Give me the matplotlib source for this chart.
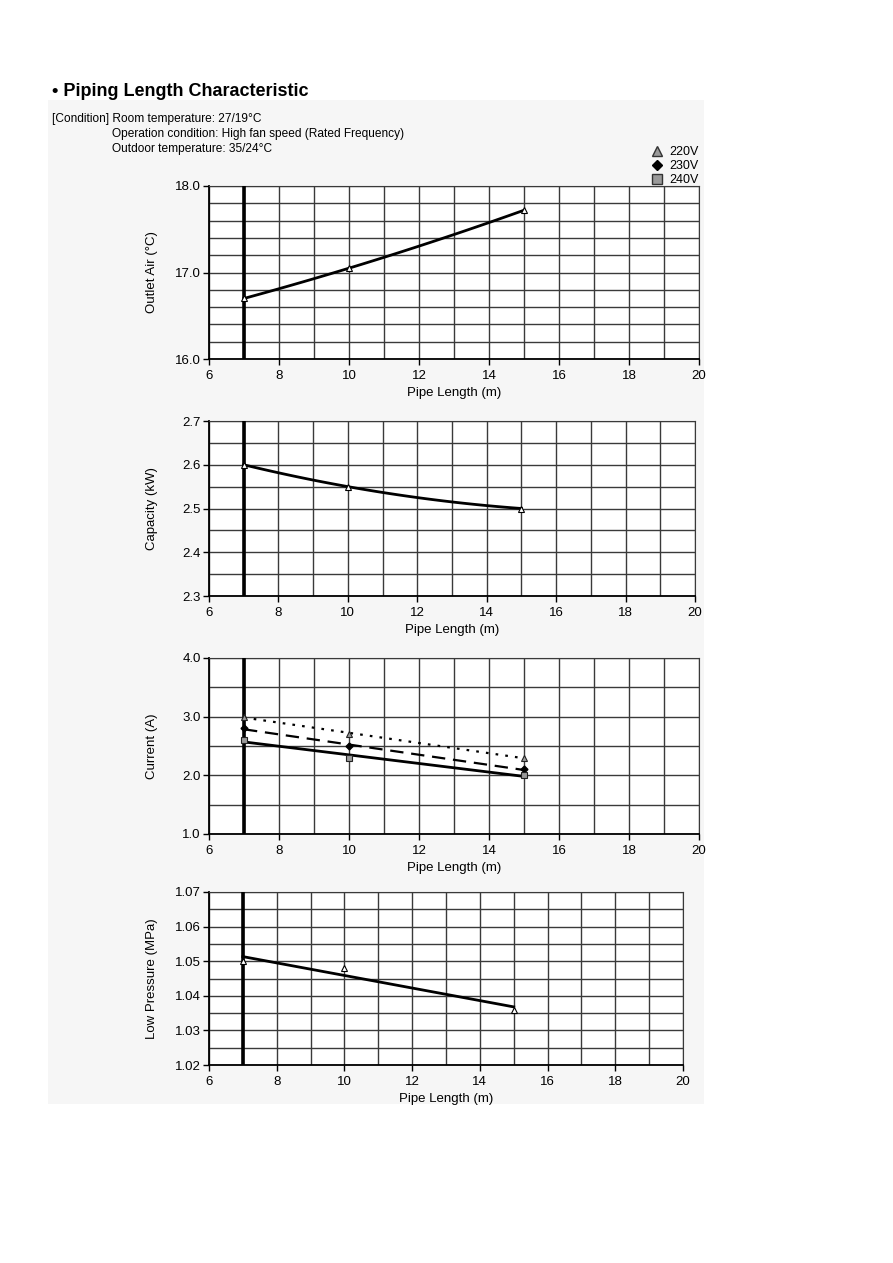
import numpy as np
import matplotlib
matplotlib.use('Agg')
import matplotlib.pyplot as plt
from matplotlib.patches import Rectangle
from matplotlib.lines import Line2D

plt.rcParams['font.family'] = ['Liberation Sans', 'DejaVu Sans']
plt.rcParams['font.size'] = 9

# data
pipe_length = [7, 10, 15]
outlet_air = [16.70, 17.05, 17.72]
capacity = [2.60, 2.55, 2.50]
current_220 = [3.0, 2.7, 2.3]
current_230 = [2.8, 2.5, 2.1]
current_240 = [2.6, 2.3, 2.0]
low_pressure = [1.050, 1.048, 1.036]
min_length = 7

voltages = ['220V', '230V', '240V']
conditions = ['[Condition] Room temperature: 27/19\u00b0C',
              'Operation condition: High fan speed (Rated Frequency)',
              'Outdoor temperature: 35/24\u00b0C']

W, H = 893, 1263
GRID = '#3a3a3a'


def fig_rect(x0, y0, x1, y1):
    # pixel box -> figure fraction
    return [x0 / W, 1 - y1 / H, (x1 - x0) / W, (y1 - y0) / H]


def fit_line(ax, y, deg, **kw):
    xs = np.linspace(pipe_length[0], pipe_length[-1], 100)
    coef = np.polyfit(pipe_length, y, deg)
    ax.plot(xs, np.polyval(coef, xs), color='black', **kw)


def setup(ax, ylim, ystep, yfmt, ylabel, box):
    x0, y0, x1, y1 = box
    ax.set_xlim(6, 20)
    ax.set_ylim(*ylim)
    ax.set_xticks(range(6, 21, 2))
    ax.set_xticks(range(6, 21), minor=True)
    ax.set_yticks(np.arange(ylim[0], ylim[1] + ystep / 2, ystep), minor=True)
    ax.yaxis.set_major_formatter(matplotlib.ticker.FormatStrFormatter(yfmt))
    ax.grid(which='both', color=GRID, linewidth=1.0)
    ax.tick_params(which='major', direction='out', length=4, width=1,
                   labelsize=9.5, pad=2)
    ax.tick_params(axis='x', which='major', pad=4)
    ax.tick_params(which='minor', length=0)
    for s in ax.spines.values():
        s.set_color(GRID)
    ax.spines['left'].set_color('black')
    ax.spines['bottom'].set_color('black')
    ax.spines['left'].set_linewidth(1.3)
    ax.spines['bottom'].set_linewidth(1.3)
    ax.axvline(min_length, color='black', linewidth=2.6, zorder=3)
    ax.set_xlabel('Pipe Length (m)', fontsize=9.5)
    ax.set_ylabel(ylabel, fontsize=9.5)
    ax.xaxis.set_label_coords(0.5, -28 / (y1 - y0))
    ax.yaxis.set_label_coords(-(x0 - 158) / (x1 - x0), 0.5)
    ax.set_facecolor('white')


fig = plt.figure(figsize=(W / 100, H / 100), dpi=100)
fig.patches.append(Rectangle((48 / W, 1 - 1104 / H), (704 - 48) / W,
                             (1104 - 100) / H, transform=fig.transFigure,
                             facecolor='#f6f6f6', edgecolor='none', zorder=-10))

fig.text(52 / W, 1 - 91 / H, '\u2022 Piping Length Characteristic',
         fontsize=13, fontweight='bold', va='center', ha='left')
fig.text(52 / W, 1 - 119 / H, conditions[0], fontsize=8.6, va='center')
fig.text(112 / W, 1 - 134 / H, conditions[1], fontsize=8.6, va='center')
fig.text(112 / W, 1 - 149 / H, conditions[2], fontsize=8.6, va='center')

# legend
handles = [Line2D([], [], marker='^', color='none', markerfacecolor='#9a9a9a',
                  markeredgecolor='#333333', markersize=7),
           Line2D([], [], marker='D', color='none', markerfacecolor='black',
                  markeredgecolor='black', markersize=5.5),
           Line2D([], [], marker='s', color='none', markerfacecolor='#9a9a9a',
                  markeredgecolor='#333333', markersize=6.5)]
fig.legend(handles, voltages, loc='upper left',
           bbox_to_anchor=(644 / W, 1 - 140 / H), frameon=False,
           fontsize=9, handlelength=1.0, handletextpad=0.5,
           labelspacing=0.15, borderpad=0)

tri = dict(marker='^', linestyle='none', markersize=4.5,
           markerfacecolor='white', markeredgecolor='black',
           markeredgewidth=0.8, zorder=5)

# outlet air
box1 = (209, 186, 699, 359)
ax1 = fig.add_axes(fig_rect(*box1))
setup(ax1, (16.0, 18.0), 0.2, '%.1f', 'Outlet Air (\u00b0C)', box1)
ax1.set_yticks([16.0, 17.0, 18.0])
fit_line(ax1, outlet_air, 2, linewidth=2)
ax1.plot(pipe_length, outlet_air, **tri)

# capacity
box2 = (209, 421, 695, 596)
ax2 = fig.add_axes(fig_rect(*box2))
setup(ax2, (2.3, 2.7), 0.05, '%.1f', 'Capacity (kW)', box2)
ax2.set_yticks([2.3, 2.4, 2.5, 2.6, 2.7])
fit_line(ax2, capacity, 2, linewidth=2)
ax2.plot(pipe_length, capacity, **tri)

# current
box3 = (209, 658, 699, 834)
ax3 = fig.add_axes(fig_rect(*box3))
setup(ax3, (1.0, 4.0), 0.5, '%.1f', 'Current (A)', box3)
ax3.set_yticks([1.0, 2.0, 3.0, 4.0])
fit_line(ax3, current_220, 1, linewidth=1.6, linestyle=(0, (1.2, 3.2)))
fit_line(ax3, current_230, 1, linewidth=1.6, linestyle=(0, (6, 3.5)))
fit_line(ax3, current_240, 1, linewidth=2)
ax3.plot(pipe_length, current_220, marker='^', linestyle='none', markersize=5,
         markerfacecolor='#9a9a9a', markeredgecolor='#222222',
         markeredgewidth=0.8, zorder=5)
ax3.plot(pipe_length, current_230, marker='D', linestyle='none', markersize=3.5,
         markerfacecolor='black', markeredgecolor='black', zorder=5)
ax3.plot(pipe_length, current_240, marker='s', linestyle='none', markersize=4.5,
         markerfacecolor='#9a9a9a', markeredgecolor='#222222',
         markeredgewidth=0.8, zorder=5)

# low pressure
box4 = (209, 892, 683, 1065)
ax4 = fig.add_axes(fig_rect(*box4))
setup(ax4, (1.02, 1.07), 0.005, '%.2f', 'Low Pressure (MPa)', box4)
ax4.set_yticks([1.02, 1.03, 1.04, 1.05, 1.06, 1.07])
fit_line(ax4, low_pressure, 1, linewidth=2)
ax4.plot(pipe_length, low_pressure, **tri)

fig.savefig('out.png', dpi=100)
